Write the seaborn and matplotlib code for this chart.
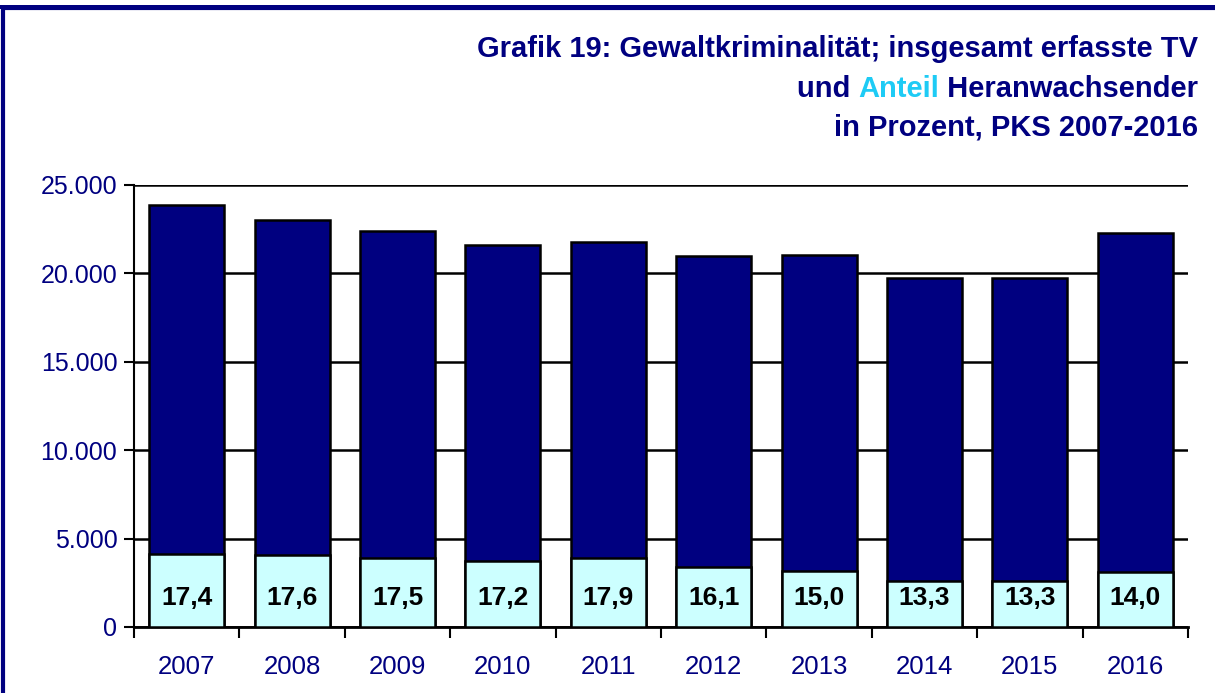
import numpy as np
import pandas as pd
import seaborn as sns
import matplotlib.pyplot as plt
from matplotlib.patches import Rectangle
from matplotlib.ticker import FuncFormatter, FixedLocator

sns.set_style('white')
plt.rcParams['font.family'] = ['Liberation Sans', 'DejaVu Sans']

years = ['2007', '2008', '2009', '2010', '2011', '2012', '2013', '2014', '2015', '2016']
totals = [23870, 23020, 22400, 21610, 21780, 20980, 21040, 19740, 19740, 22290]
share_pct = [17.4, 17.6, 17.5, 17.2, 17.9, 16.1, 15.0, 13.3, 13.3, 14.0]
pct_labels = ['17,4', '17,6', '17,5', '17,2', '17,9', '16,1', '15,0', '13,3', '13,3', '14,0']

navy = '#000080'
light = '#CCFFFF'
cyan = '#1ECBF5'

df = pd.DataFrame({'year': years, 'total': totals, 'pct': share_pct})
df['share'] = df['total'] * df['pct'] / 100

fig = plt.figure(figsize=(12.15, 6.93), dpi=100)
ax = fig.add_axes([134 / 1215, 1 - 627 / 693, (1188 - 134) / 1215, (627 - 185) / 693])

sns.barplot(data=df, x='year', y='total', color=navy, edgecolor='black',
            linewidth=1.8, width=0.71, saturation=1, ax=ax, zorder=3)
sns.barplot(data=df, x='year', y='share', color=light, edgecolor='black',
            linewidth=1.8, width=0.71, saturation=1, ax=ax, zorder=4)

for i, lab in enumerate(pct_labels):
    ax.text(i, 1620, lab, ha='center', va='center', fontsize=19,
            fontweight='bold', color='black', zorder=5)

ax.set_xlim(-0.5, 9.5)
ax.set_ylim(0, 25000)
ax.set_yticks(np.arange(0, 25001, 5000))
ax.yaxis.set_major_formatter(FuncFormatter(lambda v, p: f'{int(v):,}'.replace(',', '.')))
ax.grid(axis='y', color='black', linewidth=1.8, zorder=0)
ax.set_axisbelow(True)
ax.set(xlabel='', ylabel='')

for s in ['top', 'right']:
    ax.spines[s].set_visible(False)
ax.spines['left'].set_color('black')
ax.spines['left'].set_linewidth(1.5)
ax.spines['bottom'].set_color('black')
ax.spines['bottom'].set_linewidth(2)

ax.tick_params(axis='y', which='major', direction='out', length=7, width=1.5,
               color='black', labelcolor=navy, labelsize=18, pad=5, left=True)
ax.tick_params(axis='x', which='major', length=0, labelcolor=navy, labelsize=18.5, pad=20)
ax.xaxis.set_minor_locator(FixedLocator(np.arange(-0.5, 10, 1)))
ax.tick_params(axis='x', which='minor', direction='out', length=8, width=1.5,
               color='black', bottom=True)

# title, right aligned, with "Anteil" in cyan
fs = 21
tkw = dict(fontsize=fs, fontweight='bold', ha='right', va='baseline')
right = 1198 / 1215
fig.text(right, 1 - 57 / 693, 'Grafik 19: Gewaltkriminalität; insgesamt erfasste TV', color=navy, **tkw)
t3 = fig.text(right, 1 - 97 / 693, ' Heranwachsender', color=navy, **tkw)
t2 = ax.annotate('Anteil', xy=(0, 0), xycoords=t3, color=cyan, annotation_clip=False,
                 fontsize=fs, fontweight='bold', ha='right', va='bottom')
ax.annotate('und ', xy=(0, 0), xycoords=t2, color=navy, annotation_clip=False,
            fontsize=fs, fontweight='bold', ha='right', va='bottom')
fig.text(right, 1 - 136 / 693, 'in Prozent, PKS 2007-2016', color=navy, **tkw)

# outer frame
fig.patches.append(Rectangle((3 / 1215, -0.2), 1.5, 1.2 - 8 / 693,
                             transform=fig.transFigure, fill=False,
                             edgecolor=navy, linewidth=3))
fig.patches.append(Rectangle((0, 1 - 9 / 693), 1, 4 / 693, transform=fig.transFigure,
                             facecolor=navy, edgecolor='none'))

fig.savefig('out.png', dpi=100)
